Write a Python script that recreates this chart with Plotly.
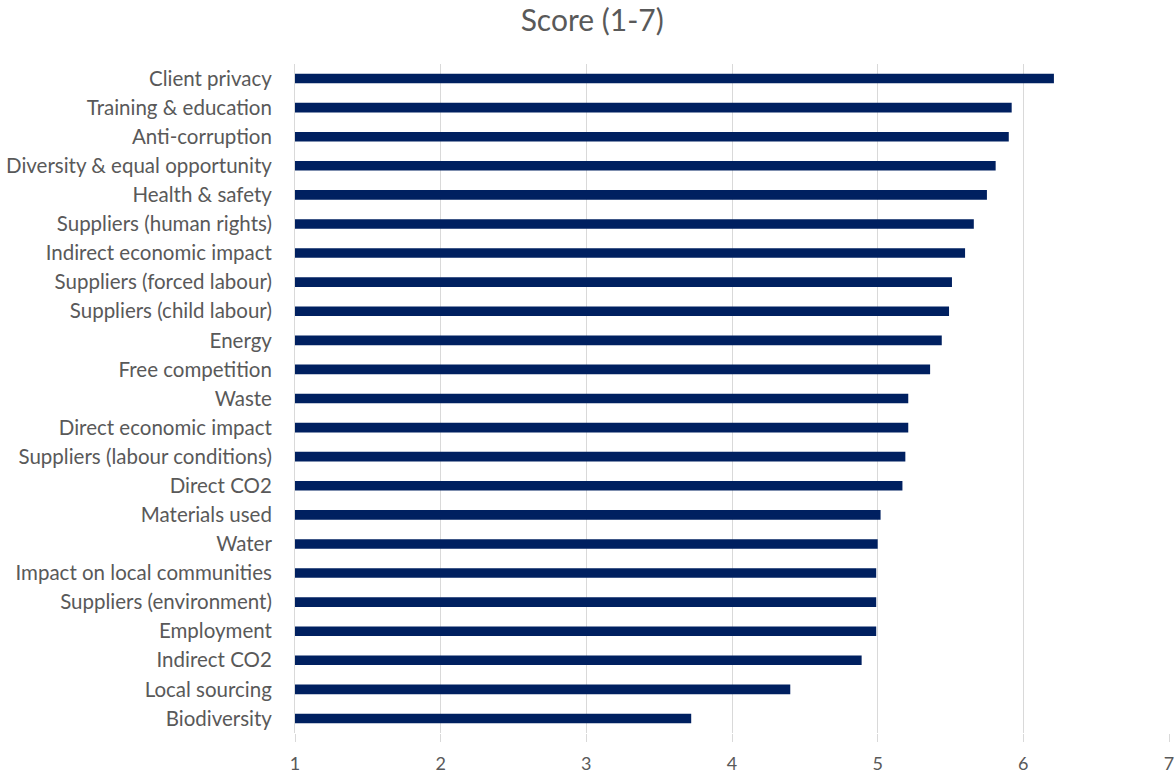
import plotly.graph_objects as go

categories = [
    "Client privacy", "Training & education", "Anti-corruption",
    "Diversity & equal opportunity", "Health & safety", "Suppliers (human rights)",
    "Indirect economic impact", "Suppliers (forced labour)", "Suppliers (child labour)",
    "Energy", "Free competition", "Waste", "Direct economic impact",
    "Suppliers (labour conditions)", "Direct CO2", "Materials used", "Water",
    "Impact on local communities", "Suppliers (environment)", "Employment",
    "Indirect CO2", "Local sourcing", "Biodiversity",
]
scores = [
    6.21, 5.92, 5.90, 5.81, 5.75, 5.66, 5.60, 5.51, 5.49, 5.44, 5.36, 5.21, 5.21,
    5.19, 5.17, 5.02, 5.00, 4.99, 4.99, 4.99, 4.89, 4.40, 3.72,
]
x_ticks = [1, 2, 3, 4, 5, 6, 7]

FONT = "Lato"
GRAY = "#595959"
GRID = "#d9d9d9"

fig = go.Figure(
    go.Bar(
        y=categories,
        x=scores,
        orientation="h",
        width=0.33,
        marker=dict(color="#002060", line=dict(width=0)),
    )
)

fig.update_layout(
    width=1175,
    height=775,
    paper_bgcolor="white",
    plot_bgcolor="white",
    showlegend=False,
    margin=dict(l=295, r=6, t=63.5, b=41.5, autoexpand=False),
    title=dict(
        text="Score (1-7)",
        x=0.504,
        xanchor="center",
        xref="container",
        yref="container",
        y=0.973,
        yanchor="middle",
        font=dict(family=FONT, size=30, color=GRAY),
    ),
)

fig.update_xaxes(
    range=[1, 7],
    tickvals=x_ticks,
    showgrid=True,
    gridcolor=GRID,
    gridwidth=1,
    zeroline=False,
    ticks="outside",
    ticklen=8,
    tickcolor=GRID,
    tickfont=dict(family=FONT, size=18, color=GRAY),
    ticklabelstandoff=6,
    ticklabeloverflow="allow",
    showline=False,
)

fig.update_yaxes(
    autorange="reversed",
    showgrid=False,
    showline=True,
    linecolor=GRID,
    linewidth=1,
    ticks="",
    tickfont=dict(family=FONT, size=20.5, color=GRAY),
    ticklabelstandoff=18,
)

fig.write_html(
    "out.html",
    config={"displayModeBar": False},
    post_script="document.body.style.margin='0';",
)
